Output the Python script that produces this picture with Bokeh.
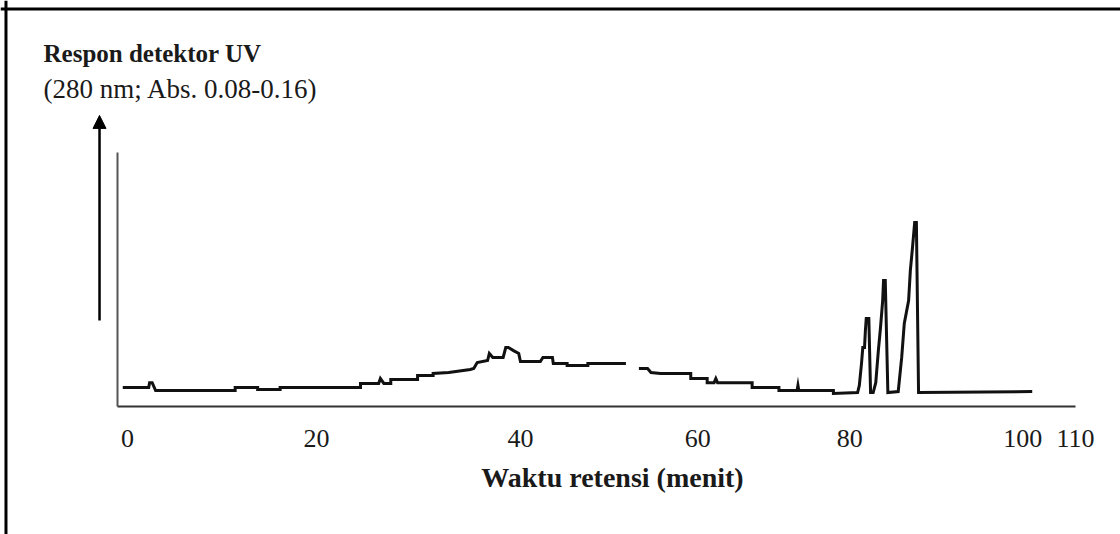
import numpy as np
from bokeh.plotting import figure
from bokeh.models import (Range1d, LinearAxis, FixedTicker, Label, Arrow,
                          NormalHead, Span, ColumnDataSource)
from bokeh.embed import file_html
from bokeh.resources import INLINE

# ---- data (retention time, relative UV response) ----
time_min = [
    -0.2, 2.8, 2.9, 3.2, 3.6, 12.8, 12.8, 15.4, 15.4, 18.0, 18.0, 27.3, 27.3,
    29.4, 29.6, 30.0, 30.8, 30.8, 33.9, 33.9, 35.7, 35.7, 37.5, 40.0, 40.4,
    40.8, 42.0, 42.2, 42.6, 43.8, 44.1, 44.4, 45.0, 45.6, 45.8, 48.1, 48.4,
    49.5, 49.6, 51.2, 51.2, 53.6, 53.6, 58.0,
    np.nan,
    59.5, 60.5, 60.9, 62.0, 65.5, 65.5, 67.4, 67.4, 68.2, 68.4, 68.6, 72.6,
    72.6, 75.7, 75.7, 77.8, 77.9, 78.0, 82.0, 82.0, 84.8, 85.0, 85.25, 85.4,
    85.6, 85.7, 85.8, 86.1, 86.3, 86.6, 86.9, 87.2, 87.45, 87.7, 87.8, 88.0,
    88.3, 89.5, 89.9, 90.2, 90.7, 90.9, 91.15, 91.4, 91.6, 91.85, 105.0,
]
response = [
    0.075, 0.075, 0.094, 0.094, 0.063, 0.063, 0.075, 0.075, 0.067, 0.067,
    0.075, 0.075, 0.091, 0.091, 0.110, 0.091, 0.091, 0.106, 0.106, 0.122,
    0.122, 0.130, 0.134, 0.146, 0.150, 0.173, 0.181, 0.209, 0.193, 0.193,
    0.232, 0.232, 0.220, 0.209, 0.177, 0.177, 0.193, 0.193, 0.169, 0.169,
    0.161, 0.161, 0.169, 0.169,
    np.nan,
    0.150, 0.150, 0.134, 0.130, 0.130, 0.110, 0.110, 0.094, 0.094, 0.110,
    0.094, 0.094, 0.075, 0.075, 0.063, 0.063, 0.083, 0.063, 0.063, 0.051,
    0.055, 0.083, 0.169, 0.232, 0.232, 0.299, 0.346, 0.346, 0.055, 0.055,
    0.094, 0.220, 0.311, 0.417, 0.496, 0.496, 0.055, 0.059, 0.193, 0.327,
    0.417, 0.535, 0.626, 0.724, 0.724, 0.055, 0.059,
]

tick_labels = ["0", "20", "40", "60", "80", "100", "110"]
tick_positions = [0.35, 22.2, 45.8, 66.3, 83.9, 103.9, 110.0]

y_title = ["Respon detektor UV", "(280 nm; Abs. 0.08-0.16)"]
x_title = "Waktu retensi (menit)"

FONT = "Liberation Serif"

p = figure(width=1120, height=534, output_backend="svg", toolbar_location=None,
           x_range=Range1d(-14.344, 115.21), y_range=Range1d(-0.5039, 1.5984),
           x_axis_location=None, y_axis_location=None,
           min_border=0, min_border_left=0, min_border_right=0,
           min_border_top=0, min_border_bottom=0)
p.outline_line_color = None
p.background_fill_color = "white"
p.border_fill_color = "white"
p.xgrid.visible = False
p.ygrid.visible = False

# scanned page frame (top and left edges)
p.add_layout(Span(location=-13.71, dimension="height", line_color="black", line_width=3))
p.add_layout(Span(location=1.565, dimension="width", line_color="black", line_width=3))

# y axis (plain vertical rule)
yaxis = LinearAxis(fixed_location=-0.81, bounds=(0, 1.0), ticker=FixedTicker(ticks=[]),
                   major_tick_line_color=None, minor_tick_line_color=None,
                   major_label_text_font_size="0px",
                   axis_line_color="#555555", axis_line_width=2)
p.add_layout(yaxis, "left")

# x axis with tick labels
xaxis = LinearAxis(fixed_location=0, bounds=(-0.81, 110.0),
                   ticker=FixedTicker(ticks=tick_positions),
                   major_label_overrides={tp: lab for tp, lab in zip(tick_positions, tick_labels)},
                   major_tick_in=0, major_tick_out=0, minor_tick_in=0, minor_tick_out=0,
                   major_label_standoff=23,
                   major_label_text_font=FONT, major_label_text_font_size="26px",
                   major_label_text_color="#1a1a1a",
                   axis_line_color="#333333", axis_line_width=2)
p.add_layout(xaxis, "below")

# x axis title
xlab_axis = LinearAxis(fixed_location=0, bounds=(3.2, 109.6), ticker=FixedTicker(ticks=[]),
                       major_tick_in=0, major_tick_out=0, minor_tick_in=0, minor_tick_out=0,
                       major_label_text_font_size="0px", axis_line_color=None,
                       axis_label=x_title, axis_label_standoff=55,
                       axis_label_text_font=FONT, axis_label_text_font_size="28px",
                       axis_label_text_font_style="bold", axis_label_text_color="#1a1a1a")
p.add_layout(xlab_axis, "below")

# y axis title (two lines)
p.add_layout(Label(x=-9.37, y=1.389, text=y_title[0], text_font=FONT,
                   text_font_size="25px", text_font_style="bold",
                   text_baseline="alphabetic", text_color="#1a1a1a"))
p.add_layout(Label(x=-9.37, y=1.250, text=y_title[1], text_font=FONT,
                   text_font_size="27px", text_baseline="alphabetic",
                   text_color="#1a1a1a"))

# response arrow
p.add_layout(Arrow(end=NormalHead(size=13, fill_color="black", line_color="black"),
                   x_start=-2.89, y_start=0.339, x_end=-2.89, y_end=1.146,
                   line_width=2.5, line_color="black"))

src = ColumnDataSource(dict(t=time_min, r=response))
p.line("t", "r", source=src, line_color="#111111", line_width=3, line_join="miter")

open("out.html", "w").write(file_html(p, INLINE))
